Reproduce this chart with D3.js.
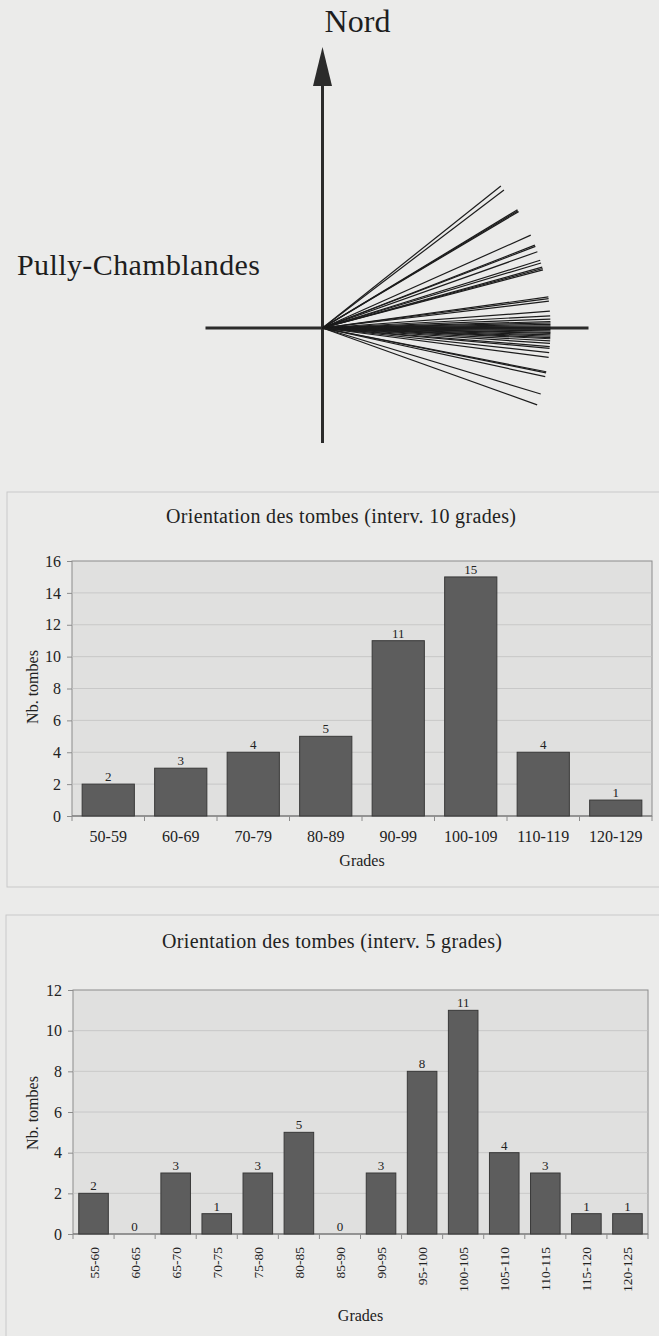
<!DOCTYPE html>
<html lang="fr">
<head>
<meta charset="UTF-8">
<title>Orientation des tombes - Pully-Chamblandes</title>
<style>
  body { margin: 0; background: #ebebea; }
</style>
</head>
<body>
<script src="https://d3js.org/d3.v7.min.js"></script>
<script>
// orientation of each tomb, in grades (read from the fan)
const orientations = [57.2, 58.6, 65.3, 65.6, 65.9, 73.3, 76.3, 76.7, 78.3,
  80.8, 81.6, 82.8, 83.2, 83.6, 91.3, 91.8, 92.5, 95.3, 96.6, 97.5, 98.2,
  98.6, 99.0, 99.4, 99.8, 100.0, 100.4, 100.8, 101.2, 101.5, 101.9, 102.3,
  102.7, 103.0, 103.6, 104.3, 105.2, 105.7, 106.9, 108.2, 112.3, 112.6,
  113.7, 118.7, 121.9];

const grades10 = ['50-59', '60-69', '70-79', '80-89', '90-99', '100-109', '110-119', '120-129'];
const tombes10 = [2, 3, 4, 5, 11, 15, 4, 1];
const ticks10 = [0, 2, 4, 6, 8, 10, 12, 14, 16];

const grades5 = ['55-60', '60-65', '65-70', '70-75', '75-80', '80-85', '85-90',
  '90-95', '95-100', '100-105', '105-110', '110-115', '115-120', '120-125'];
const tombes5 = [2, 0, 3, 1, 3, 5, 0, 3, 8, 11, 4, 3, 1, 1];
const ticks5 = [0, 2, 4, 6, 8, 10, 12];

const serif = '"Liberation Serif"';
const w = 659;
const h = 1336;
const svg = d3.select('body').append('svg')
  .attr('width', w)
  .attr('height', h)
  .style('display', 'block');

// ---- compass / fan ----
const cx = 322.5, cy = 328, radius = 228;
const angle = d3.scaleLinear().domain([0, 400]).range([0, 2 * Math.PI]);
const compass = svg.append('g').attr('transform', `translate(${cx},${cy})`);

compass.append('line')
  .attr('x1', -117).attr('y1', 0).attr('x2', 266).attr('y2', 0)
  .attr('stroke', '#2b2b2b').attr('stroke-width', 3);
compass.append('line')
  .attr('x1', 0).attr('y1', -245).attr('x2', 0).attr('y2', 115)
  .attr('stroke', '#2b2b2b').attr('stroke-width', 3);
compass.append('path')
  .attr('d', 'M0,-281 L-9.5,-242 L9.5,-242 Z')
  .attr('fill', '#2b2b2b');

compass.selectAll('line.tombe')
  .data(orientations)
  .enter()
  .append('line')
  .attr('class', 'tombe')
  .attr('x1', 0).attr('y1', 0)
  .attr('x2', d => d3.pointRadial(angle(d), radius)[0])
  .attr('y2', d => d3.pointRadial(angle(d), radius)[1])
  .attr('stroke', '#1c1c1c')
  .attr('stroke-width', 1.2);

svg.append('text')
  .attr('x', 357.5).attr('y', 32)
  .attr('text-anchor', 'middle')
  .attr('font-size', 32)
  .attr('fill', '#1e1e1e')
  .style('font-family', serif)
  .text('Nord');
svg.append('text')
  .attr('x', 17).attr('y', 275)
  .attr('font-size', 30)
  .attr('textLength', 243)
  .attr('fill', '#1e1e1e')
  .style('font-family', serif)
  .text('Pully-Chamblandes');

// ---- bar charts ----
function drawChart(cats, values, ticks, o) {
  const g = svg.append('g');
  g.append('rect')
    .attr('x', o.frame[0]).attr('y', o.frame[1])
    .attr('width', o.frame[2]).attr('height', o.frame[3])
    .attr('fill', 'none').attr('stroke', '#c9c9c9');

  g.append('text')
    .attr('x', o.titleX).attr('y', o.titleY)
    .attr('text-anchor', 'middle')
    .attr('font-size', 20)
    .attr('textLength', o.titleW)
    .attr('fill', '#222')
    .style('font-family', serif)
    .text(o.title);

  const x = d3.scaleBand().domain(cats).range([o.left, o.right]).paddingInner(0.28).paddingOuter(0.14);
  const y = d3.scaleLinear().domain([0, d3.max(ticks)]).range([o.bottom, o.top]);

  g.append('rect')
    .attr('x', o.left).attr('y', o.top)
    .attr('width', o.right - o.left).attr('height', o.bottom - o.top)
    .attr('fill', '#e0e0df').attr('stroke', '#8c8c8c');

  g.selectAll('line.grid')
    .data(ticks.slice(1, -1))
    .enter().append('line')
    .attr('x1', o.left).attr('x2', o.right)
    .attr('y1', d => y(d)).attr('y2', d => y(d))
    .attr('stroke', '#c2c2c2').attr('stroke-width', 0.8);

  const yAxis = d3.axisLeft(y).tickValues(ticks).tickSize(5).tickPadding(6);
  const ya = g.append('g').attr('transform', `translate(${o.left},0)`).call(yAxis);
  ya.select('.domain').remove();
  ya.selectAll('line').attr('stroke', '#8c8c8c');
  ya.selectAll('text').attr('font-size', 16).attr('fill', '#222')
    .style('font-family', serif);

  // baseline and boundary ticks
  g.append('line')
    .attr('x1', o.left).attr('x2', o.right).attr('y1', o.bottom).attr('y2', o.bottom)
    .attr('stroke', '#6f6f6f');
  g.selectAll('line.xt')
    .data(cats.concat(['end']))
    .enter().append('line')
    .attr('x1', (d, i) => o.left + i * (o.right - o.left) / cats.length)
    .attr('x2', (d, i) => o.left + i * (o.right - o.left) / cats.length)
    .attr('y1', o.bottom).attr('y2', o.bottom + 5)
    .attr('stroke', '#8c8c8c');

  g.selectAll('rect.bar')
    .data(values)
    .enter().append('rect')
    .attr('class', 'bar')
    .attr('x', (d, i) => x(cats[i]))
    .attr('y', d => y(d))
    .attr('width', x.bandwidth())
    .attr('height', d => o.bottom - y(d))
    .attr('fill', '#5d5d5d')
    .attr('stroke', d => d > 0 ? '#383838' : 'none');

  g.selectAll('text.val')
    .data(values)
    .enter().append('text')
    .attr('x', (d, i) => x(cats[i]) + x.bandwidth() / 2)
    .attr('y', d => y(d) - 3)
    .attr('text-anchor', 'middle')
    .attr('font-size', 13)
    .attr('fill', '#222')
    .style('font-family', serif)
    .text(d => d);

  const labels = g.selectAll('text.cat')
    .data(cats)
    .enter().append('text')
    .attr('font-size', o.catSize)
    .attr('fill', '#222')
    .style('font-family', serif)
    .text(d => d);
  if (o.rotate) {
    labels.attr('text-anchor', 'end')
      .attr('transform', d => `translate(${x(d) + x.bandwidth() / 2 + 5},${o.catY}) rotate(-90)`);
  } else {
    labels.attr('text-anchor', 'middle')
      .attr('x', d => x(d) + x.bandwidth() / 2)
      .attr('y', o.catY);
  }

  g.append('text')
    .attr('x', (o.left + o.right) / 2).attr('y', o.gradesY)
    .attr('text-anchor', 'middle')
    .attr('font-size', 16)
    .attr('fill', '#222')
    .style('font-family', serif)
    .text('Grades');

  g.append('text')
    .attr('transform', `translate(38,${o.nbY}) rotate(-90)`)
    .attr('text-anchor', 'middle')
    .attr('font-size', 16)
    .attr('fill', '#222')
    .style('font-family', serif)
    .text('Nb. tombes');
}

drawChart(grades10, tombes10, ticks10, {
  frame: [7, 492, 660, 395],
  title: 'Orientation des tombes (interv. 10 grades)',
  titleX: 341, titleY: 523, titleW: 350,
  left: 72, right: 652, top: 561, bottom: 816,
  catY: 842, catSize: 16, rotate: false,
  gradesY: 866, nbY: 687
});

drawChart(grades5, tombes5, ticks5, {
  frame: [6, 915, 660, 430],
  title: 'Orientation des tombes (interv. 5 grades)',
  titleX: 332, titleY: 948, titleW: 340,
  left: 73, right: 648, top: 990, bottom: 1234,
  catY: 1247, catSize: 13.5, rotate: true,
  gradesY: 1321, nbY: 1113
});
</script>
</body>
</html>
